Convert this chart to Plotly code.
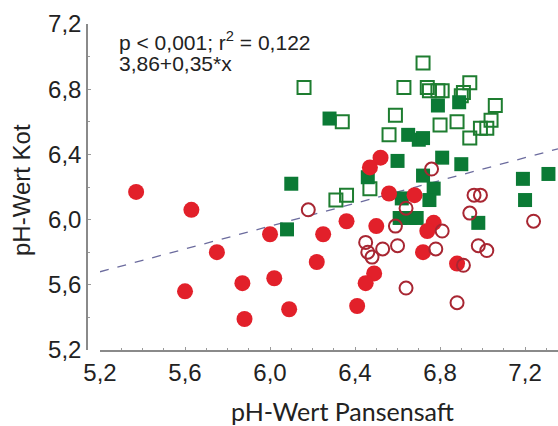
import plotly.graph_objects as go

# pH-Wert Pansensaft (x) vs. pH-Wert Kot (y)

# Group 1: filled red circles
red_fill_x = [5.37, 5.63, 5.75, 5.60, 5.87, 5.88, 6.00, 6.02, 6.09, 6.22, 6.25,
              6.52, 6.47, 6.56, 6.68, 6.36, 6.50, 6.77, 6.74, 6.72, 6.49, 6.45,
              6.88, 6.41]
red_fill_y = [6.17, 6.06, 5.80, 5.56, 5.61, 5.39, 5.91, 5.64, 5.45, 5.74, 5.91,
              6.38, 6.32, 6.16, 6.15, 5.99, 5.96, 5.98, 5.93, 5.80, 5.67, 5.61,
              5.73, 5.47]

# Group 2: open red circles
red_open_x = [6.18, 6.76, 6.96, 6.99, 6.94, 6.64, 6.59, 6.81, 6.45, 6.46, 6.48,
              6.53, 6.60, 6.78, 6.98, 7.02, 6.91, 6.64, 6.88, 7.24]
red_open_y = [6.06, 6.31, 6.15, 6.15, 6.04, 6.07, 5.96, 5.93, 5.86, 5.80, 5.77,
              5.82, 5.84, 5.82, 5.84, 5.81, 5.72, 5.58, 5.49, 5.99]

# Group 3: filled green squares
green_fill_x = [6.10, 6.08, 6.28, 6.60, 6.81, 6.90, 6.46, 6.72, 6.77, 6.75, 6.62,
                6.66, 6.69, 6.61, 6.98, 7.19, 7.31, 7.20, 6.65, 6.70, 6.79, 6.89,
                6.72]
green_fill_y = [6.22, 5.94, 6.62, 6.36, 6.38, 6.34, 6.26, 6.27, 6.19, 6.12, 6.13,
                6.01, 6.01, 6.01, 5.98, 6.25, 6.28, 6.12, 6.52, 6.49, 6.70, 6.72,
                6.50]

# Group 4: open green squares
green_open_x = [6.16, 6.72, 6.63, 6.74, 6.34, 6.59, 6.56, 6.75, 6.79, 6.81, 6.94,
                6.91, 7.06, 6.80, 6.88, 6.94, 6.99, 7.02, 7.04, 6.31, 6.36, 6.47,
                6.90]
green_open_y = [6.81, 6.96, 6.81, 6.81, 6.60, 6.64, 6.52, 6.79, 6.79, 6.79, 6.84,
                6.78, 6.70, 6.58, 6.60, 6.50, 6.56, 6.56, 6.61, 6.12, 6.15, 6.19,
                6.76]

# Linear regression: y = 3.86 + 0.35 * x
intercept = 3.86
slope = 0.35
x_range = [5.2, 7.355]
y_range = [5.2, 7.2]
line_x = x_range
line_y = [intercept + slope * v for v in line_x]

x_ticks = [5.2, 5.6, 6.0, 6.4, 6.8, 7.2]
y_ticks = [5.2, 5.6, 6.0, 6.4, 6.8, 7.2]

RED = "#E2202A"
RED_DARK = "#A82632"
GREEN = "#0B7A35"
GREEN_OPEN = "#1E7D30"
TEXT = "#222222"
SANS = "Liberation Sans, Arial, sans-serif"

fig = go.Figure()

fig.add_trace(go.Scatter(
    x=line_x, y=line_y, mode="lines",
    line=dict(color="#6C6C9E", width=1.3, dash="dash"),
    hoverinfo="skip", showlegend=False))

fig.add_trace(go.Scatter(
    x=green_open_x, y=green_open_y, mode="markers",
    marker=dict(symbol="square-open", size=13, color=GREEN_OPEN,
                line=dict(width=2, color=GREEN_OPEN)),
    showlegend=False))

fig.add_trace(go.Scatter(
    x=green_fill_x, y=green_fill_y, mode="markers",
    marker=dict(symbol="square", size=14, color=GREEN,
                line=dict(width=0)),
    showlegend=False))

fig.add_trace(go.Scatter(
    x=red_fill_x, y=red_fill_y, mode="markers",
    marker=dict(symbol="circle", size=16, color=RED,
                line=dict(width=0)),
    showlegend=False))

fig.add_trace(go.Scatter(
    x=red_open_x, y=red_open_y, mode="markers",
    marker=dict(symbol="circle-open", size=13, color=RED_DARK,
                line=dict(width=2, color=RED_DARK)),
    showlegend=False))

W, H = 558, 426
L, R, T, B = 87, 0, 24, 76
plot_w = W - L - R
plot_h = H - T - B


def px_x(px):
    """Horizontal pixel position -> paper coordinate."""
    return (px - L) / plot_w


def px_y(py):
    """Vertical pixel position (from top) -> paper coordinate."""
    return 1 - (py - T) / plot_h


axis_common = dict(
    showgrid=False, zeroline=False,
    showline=True, linecolor="#8A8A8A", linewidth=1.5,
    ticks="inside", ticklen=3, tickwidth=1, tickcolor="#9A9A9A",
    tickformat=".1f",
    tickfont=dict(family=SANS, size=24, color=TEXT),
)

fig.update_layout(
    width=W, height=H,
    margin=dict(l=L, r=R, t=T, b=B),
    paper_bgcolor="white", plot_bgcolor="white",
    separators=", ",
    xaxis=dict(
        range=x_range, domain=[px_x(100), 1],
        tickvals=x_ticks,
        minor=dict(dtick=0.1, tick0=5.2, ticks="inside", ticklen=2, tickcolor="#9A9A9A"),
        **axis_common),
    yaxis=dict(
        range=y_range, domain=[0, 1],
        anchor="free", position=0,
        tickvals=y_ticks,
        minor=dict(dtick=0.2, tick0=5.2, ticks="inside", ticklen=2, tickcolor="#9A9A9A"),
        **axis_common),
    annotations=[
        dict(text="p &lt; 0,001; r<sup>2</sup> = 0,122", xref="paper", yref="paper",
             x=px_x(117), y=px_y(41), xanchor="left", yanchor="middle", showarrow=False,
             font=dict(family=SANS, size=21, color=TEXT)),
        dict(text="3,86+0,35*x", xref="paper", yref="paper",
             x=px_x(117), y=px_y(64), xanchor="left", yanchor="middle", showarrow=False,
             font=dict(family=SANS, size=21, color=TEXT)),
        dict(text="pH-Wert Pansensaft", xref="paper", yref="paper",
             x=px_x(342), y=px_y(411), xanchor="center", yanchor="middle", showarrow=False,
             font=dict(family="Lato, Open Sans, sans-serif", size=25, color=TEXT)),
        dict(text="pH-Wert Kot", xref="paper", yref="paper",
             x=px_x(22), y=px_y(190), xanchor="center", yanchor="middle",
             showarrow=False, textangle=-90,
             font=dict(family=SANS, size=24, color=TEXT)),
    ],
)

fig.write_html("out.html")
